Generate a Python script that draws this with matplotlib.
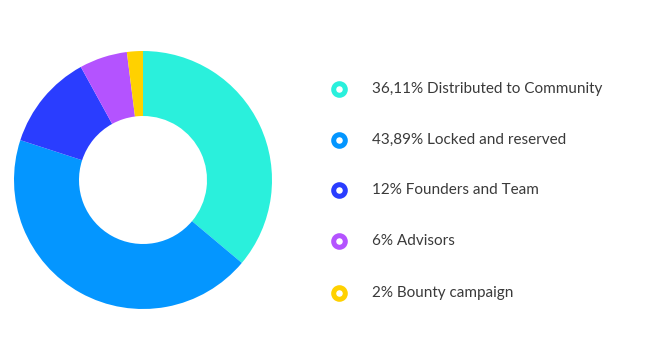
import numpy as np
import matplotlib.pyplot as plt

# Datos
labels = ["36,11% Distributed to Community", "43,89% Locked and reserved",
          "12% Founders and Team", "6% Advisors", "2% Bounty campaign"]
values = [36.11, 43.89, 12, 6, 2]
colors = ["#2AF0DC", "#0496FF", "#2A3DFF", "#B453FF", "#FFD100"]
legend_y = [89, 140, 190, 241, 293]  # píxeles desde arriba

W, H = 663, 361
fig = plt.figure(figsize=(W / 100, H / 100), dpi=100)
ax = fig.add_axes([0, 0, 1, 1])

# Donut
ax.pie(values, colors=colors, startangle=90, counterclock=False,
       center=(143, H - 180), radius=129,
       wedgeprops=dict(width=65, linewidth=0))

# Leyenda manual
for lab, c, y in zip(labels, colors, legend_y):
    ax.scatter(339, H - y, s=70, facecolor="white", edgecolor=c,
               linewidth=3.6, zorder=3)
    ax.text(372, H - y, lab, fontsize=11, color="#3a3a3a",
            family="Lato", va="center", ha="left")

ax.set_xlim(0, W)
ax.set_ylim(0, H)
ax.set_aspect("equal")
ax.axis("off")

plt.savefig("out.png", dpi=100)
